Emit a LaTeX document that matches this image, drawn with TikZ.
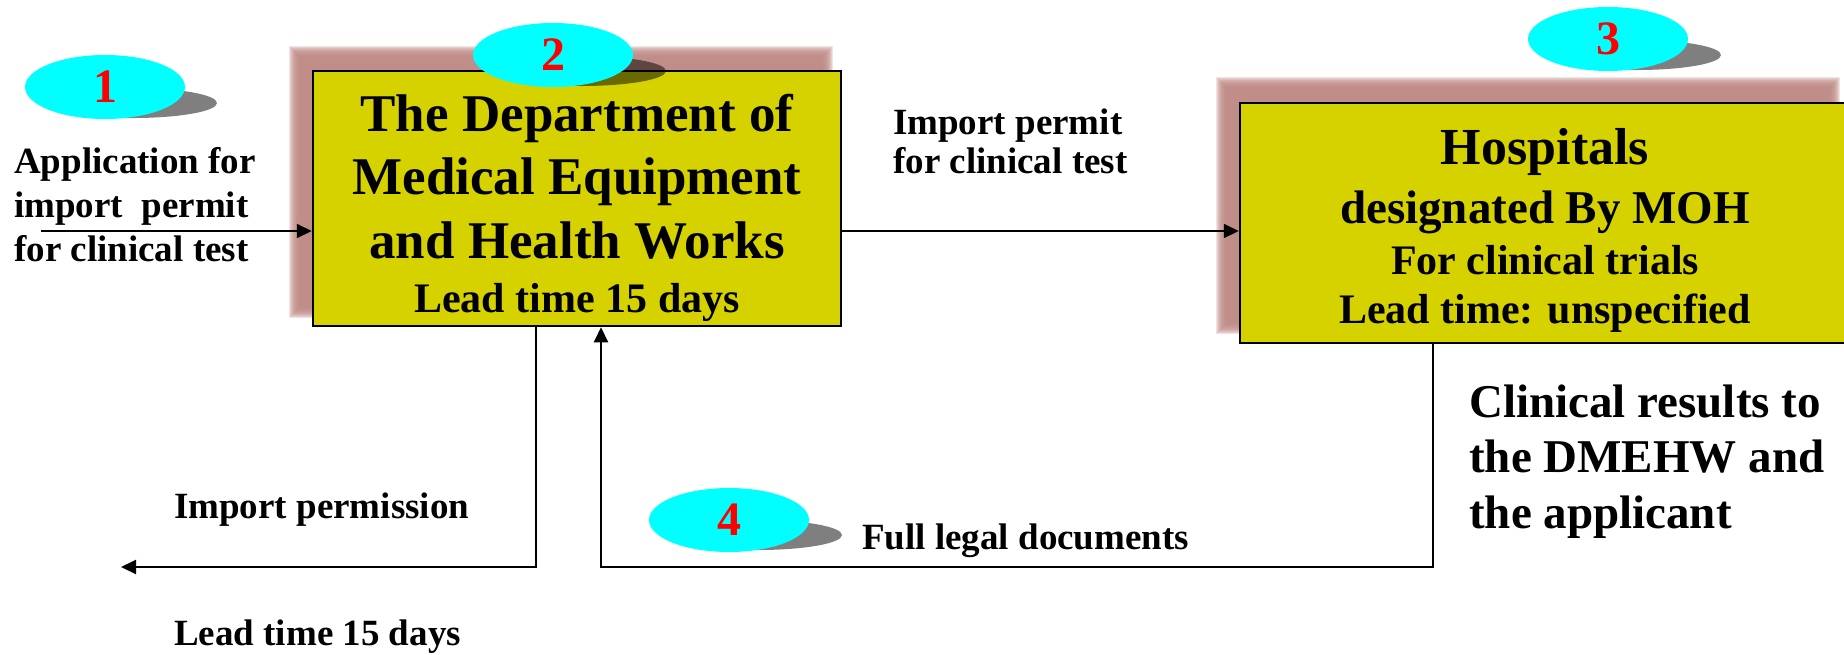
\documentclass[tikz,border=0pt]{standalone}
\usepackage{fontspec}
\setmainfont{Liberation Serif}
\usetikzlibrary{shapes.geometric,arrows.meta}
\definecolor{boxfill}{RGB}{214,210,0}
\definecolor{shad}{RGB}{190,137,132}
\definecolor{cyanball}{RGB}{0,255,255}
\begin{document}
\begin{tikzpicture}[x=1pt,y=-1pt,
  lbl/.style={font=\fontsize{37}{44}\selectfont\bfseries, inner sep=0pt, anchor=base west},
  bigtxt/.style={font=\fontsize{53}{63}\selectfont\bfseries, inner sep=0pt, anchor=base},
  midtxt/.style={font=\fontsize{42}{50}\selectfont\bfseries, inner sep=0pt, anchor=base},
  resulttxt/.style={font=\fontsize{47}{56}\selectfont\bfseries, inner sep=0pt, anchor=base west},
  procbox/.style={draw=black, line width=2.5pt, fill=boxfill, rectangle, inner sep=0pt},
  ball/.style={ellipse, fill=cyanball, minimum width=160pt, minimum height=64pt, inner sep=0pt, text=red, font=\fontsize{48}{48}\selectfont\bfseries},
  ballshadow/.style={fill=black, opacity=0.5},
  arr/.style={line width=2pt, -{Triangle[length=15pt,width=14pt]}},
]
\useasboundingbox (0,0) rectangle (1844,654);
% blurred shadows of the boxes
\foreach \i in {0,...,11} {
  \fill[shad, opacity=0.24] (289+\i,46+\i) rectangle (833-\i,318-\i);
  \fill[shad, opacity=0.24] (1216+\i,77+\i) rectangle (1840-\i,334-\i);
}
% boxes
\node[procbox, minimum width=528pt, minimum height=255pt] (dept) at (577,198.5) {};
\node[procbox, minimum width=612pt, minimum height=240pt] (hosp) at (1546,223) {};
% box texts
\node[bigtxt] (d1) at (577,131) {The Department of};
\node[bigtxt] (d2) at (577,194) {Medical Equipment};
\node[bigtxt] (d3) at (577,258) {and Health Works};
\node[midtxt] (d4) at (577,312) {Lead time 15 days};
\node[bigtxt, font=\fontsize{52}{60}\selectfont\bfseries] (h1) at (1545,164) {Hospitals};
\node[midtxt, font=\fontsize{47}{55}\selectfont\bfseries] (h2) at (1545,223) {designated By MOH};
\node[midtxt] (h3) at (1545,274) {For clinical trials};
\node[midtxt] (h4) at (1545,323) {Lead time: unspecified};
% labels
\node[lbl] (app1) at (14,173) {Application for};
\node[lbl] (app2) at (14,217) {import\hspace{0.25em} permit};
\node[lbl] (app3) at (14,261) {for clinical test};
\node[lbl] (ip1) at (893,134) {Import permit};
\node[lbl] (ip2) at (893,173) {for clinical test};
\node[lbl] (perm) at (174,518) {Import permission};
\node[lbl] (lt) at (174,645) {Lead time 15 days};
\node[lbl] (full) at (862,549) {Full legal documents};
\node[resulttxt] (r1) at (1469,417) {Clinical results to};
\node[resulttxt] (r2) at (1469,472) {the DMEHW and};
\node[resulttxt] (r3) at (1469,528) {the applicant};
% connectors
\coordinate (appin) at (41,231);
\coordinate (outend) at (121,567);
\coordinate (permcorner) at (536,567);
\coordinate (retright) at (1433,567);
\coordinate (retleft) at (601,567);
\draw[arr] (appin) -- (appin -| dept.west);
\draw[arr] (dept.east |- appin) -- (hosp.west |- appin);
\draw[arr] (dept.south -| permcorner) -- (permcorner) -- (outend);
\draw[arr] (hosp.south -| retright) -- (retright) -- (retleft) -- (dept.south -| retleft);
% numbered ellipses with shadows
\fill[ballshadow] (133,103) ellipse [x radius=84, y radius=15];
\node[ball] (n1) at (105,87) {1};
\fill[ballshadow] (582,71) ellipse [x radius=84, y radius=15];
\node[ball] (n2) at (553,55) {2};
\fill[ballshadow] (1637,55) ellipse [x radius=84, y radius=15];
\node[ball] (n3) at (1608,39) {3};
\fill[ballshadow] (758,535) ellipse [x radius=84, y radius=15];
\node[ball] (n4) at (729,520) {4};
\end{tikzpicture}
\end{document}
